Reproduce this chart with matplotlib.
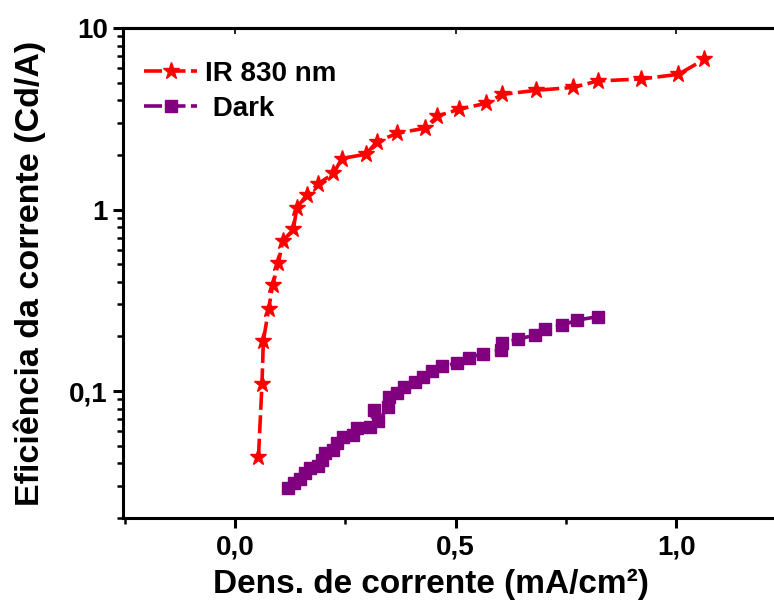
import matplotlib
matplotlib.use("Agg")
import matplotlib.pyplot as plt
from matplotlib.ticker import FuncFormatter, LogLocator, MultipleLocator, NullFormatter, NullLocator

plt.rcParams['font.family'] = ['Liberation Sans', 'DejaVu Sans']
plt.rcParams['font.weight'] = 'bold'

# ---- data ----
ir_x = [0.053, 0.061, 0.064, 0.076, 0.085, 0.098, 0.108, 0.132, 0.140, 0.163,
        0.189, 0.223, 0.242, 0.297, 0.321, 0.367, 0.431, 0.458, 0.508, 0.569,
        0.606, 0.683, 0.767, 0.822, 0.921, 1.005, 1.064]
ir_y = [0.0435, 0.110, 0.189, 0.282, 0.382, 0.505, 0.670, 0.778, 1.023, 1.21,
        1.39, 1.58, 1.91, 2.02, 2.36, 2.63, 2.81, 3.27, 3.57, 3.85,
        4.31, 4.54, 4.71, 5.11, 5.24, 5.56, 6.72]

dark_x = [0.121, 0.134, 0.146, 0.159, 0.170, 0.189, 0.197, 0.204, 0.222, 0.231,
          0.244, 0.267, 0.276, 0.306, 0.316, 0.325, 0.347, 0.348, 0.368, 0.383,
          0.408, 0.426, 0.446, 0.470, 0.504, 0.531, 0.563, 0.603, 0.606, 0.642,
          0.680, 0.703, 0.742, 0.775, 0.822]
dark_y = [0.0291, 0.0310, 0.0330, 0.0352, 0.0375, 0.0386, 0.0417, 0.0457, 0.0473, 0.0519,
          0.0556, 0.0573, 0.0623, 0.0636, 0.0786, 0.0686, 0.0813, 0.0923, 0.0979, 0.106,
          0.112, 0.120, 0.129, 0.137, 0.143, 0.153, 0.161, 0.168, 0.185, 0.193,
          0.204, 0.220, 0.231, 0.246, 0.257]

fig = plt.figure(figsize=(7.74, 6.04), dpi=100)
ax = fig.add_axes([0.159, 0.1424, 0.84, 0.8112])

ax.plot(ir_x, ir_y, color='#ff0000', linestyle=(0, (5, 1.5)), linewidth=2.6,
        marker='*', markersize=12.5, label='IR 830 nm')
ax.plot(dark_x, dark_y, color='#800080', linestyle=(0, (5, 1.5)), linewidth=2.6,
        marker='s', markersize=8.5, label=' Dark')

ax.set_yscale('log')
ax.set_xlim(-0.254, 1.22)
ax.set_ylim(0.02, 10)

ax.xaxis.set_major_locator(MultipleLocator(0.5))
ax.xaxis.set_minor_locator(MultipleLocator(0.25))
ax.xaxis.set_major_formatter(FuncFormatter(lambda v, p: f'{v:.1f}'.replace('.', ',')))
ax.yaxis.set_major_locator(LogLocator(base=10, numticks=10))
ax.yaxis.set_minor_locator(LogLocator(base=10, subs=range(2, 10), numticks=20))
ax.yaxis.set_minor_formatter(NullFormatter())
ax.yaxis.set_major_formatter(FuncFormatter(lambda v, p: f'{v:g}'.replace('.', ',')))

for s in ['left', 'bottom', 'top']:
    ax.spines[s].set_linewidth(2.2)
ax.spines['right'].set_visible(False)

ax.tick_params(axis='both', which='major', direction='out', length=7, width=2.2,
               labelsize=20)
ax.tick_params(axis='x', which='major', pad=5)
ax.tick_params(axis='y', which='major', pad=4)
ax.tick_params(axis='both', which='minor', direction='out', length=4, width=1.8)

# small inward ticks along the top frame
top = ax.secondary_xaxis('top')
top.xaxis.set_major_locator(MultipleLocator(0.5))
top.xaxis.set_minor_locator(NullLocator())
top.tick_params(direction='in', length=4, width=1.2, labeltop=False)
top.spines['top'].set_linewidth(2.2)

ax.set_xlabel('Dens. de corrente (mA/cm²)', fontsize=24, fontweight='bold')
ax.set_ylabel('Eficiência da corrente (Cd/A)', fontsize=24.5, fontweight='bold')
ax.xaxis.set_label_coords(0.474, -0.103)
ax.yaxis.set_label_coords(-0.118, 0.5)

ax.legend(loc='upper left', bbox_to_anchor=(0.0154, 0.955), frameon=False,
          handlelength=1.9, handletextpad=0.3, borderaxespad=0, labelspacing=0.3,
          prop={'weight': 'bold', 'size': 20})

fig.savefig('out.png', dpi=100)
